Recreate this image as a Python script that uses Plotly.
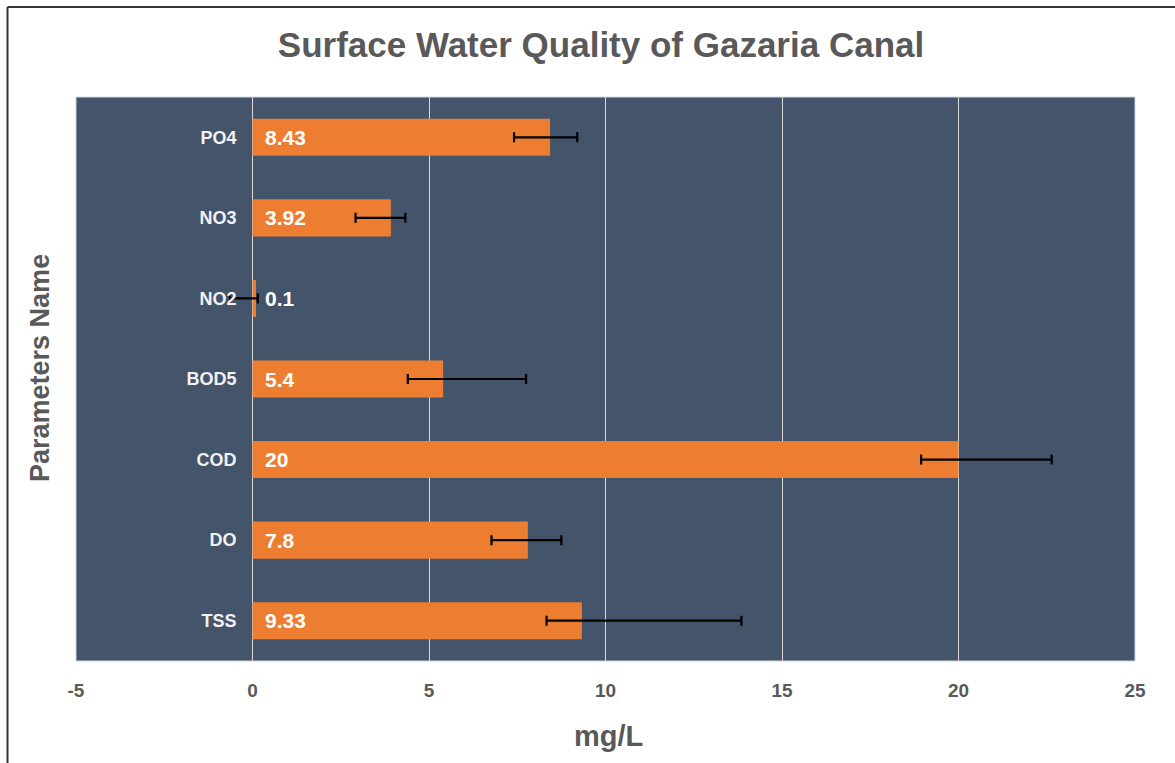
import plotly.graph_objects as go

categories = ["TSS", "DO", "COD", "BOD5", "NO2", "NO3", "PO4"]
values = [9.33, 7.8, 20, 5.4, 0.1, 3.92, 8.43]
labels = ["9.33", "7.8", "20", "5.4", "0.1", "3.92", "8.43"]
err_plus = [4.52, 0.95, 2.64, 2.35, 0.05, 0.41, 0.77]
err_minus = [1.0, 1.03, 1.06, 1.0, 0.74, 1.0, 1.02]
x_ticks = [-5, 0, 5, 10, 15, 20, 25]

XMIN, XMAX = -5, 25
FONT = "Liberation Sans, Arial, sans-serif"
GRAY = "#595959"

# target plot area in screen px: x 76..1135, y 97..661
PL, PR, PT, PB = 76, 1135, 97, 661
W, H = 1175, 763


def px(xs):
    return (xs - PL) / (PR - PL)


def py(ys):
    return (PB - ys) / (PB - PT)


fig = go.Figure()
fig.add_trace(go.Bar(
    y=categories, x=values, orientation="h",
    marker=dict(color="#ED7D31", line=dict(width=0)),
    width=0.46,
    error_x=dict(type="data", symmetric=False, array=err_plus, arrayminus=err_minus,
                 color="#000000", thickness=2.2, width=5),
    hoverinfo="x+y",
))

for cat, lab in zip(categories, labels):
    fig.add_annotation(x=0, y=cat, xref="x", yref="y", text="<b>%s</b>" % lab,
                       showarrow=False, xanchor="left", yanchor="middle", xshift=10,
                       font=dict(family=FONT, size=21, color="#FFFFFF"))

ypos = (0 - XMIN) / (XMAX - XMIN)

fig.update_layout(
    width=W, height=H,
    margin=dict(l=PL, r=W - PR, t=PT, b=H - PB),
    paper_bgcolor="#FFFFFF", plot_bgcolor="#44546A",
    showlegend=False,
    title=dict(text="<b>Surface Water Quality of Gazaria Canal</b>", x=601 / W, xanchor="center",
               y=1 - 45 / H, yanchor="middle", yref="container",
               font=dict(family=FONT, size=35, color=GRAY)),
    xaxis=dict(range=[XMIN, XMAX], tickvals=x_ticks, ticktext=["<b>%s</b>" % v for v in x_ticks],
               showgrid=True, gridcolor="#D9D9D9", gridwidth=1, zeroline=False,
               showline=False, ticks="", ticklabelstandoff=16,
               tickfont=dict(family=FONT, size=19, color=GRAY)),
    yaxis=dict(categoryorder="array", categoryarray=categories, anchor="free", position=ypos,
               tickvals=categories, ticktext=["<b>%s</b>" % c for c in categories],
               showgrid=False, zeroline=False, showline=False, ticks="", ticklabelstandoff=16,
               tickfont=dict(family=FONT, size=18, color="#F2F2F2")),
    shapes=[
        dict(type="rect", xref="paper", yref="paper", x0=0, x1=1, y0=0, y1=1,
             line=dict(color="#D0D4DA", width=1), layer="below"),
        dict(type="line", xref="paper", yref="paper", x0=px(7.5), x1=px(7.5),
             y0=py(775), y1=py(7), line=dict(color="#333333", width=2)),
        dict(type="line", xref="paper", yref="paper", x0=px(7.5), x1=px(1185),
             y0=py(7), y1=py(7), line=dict(color="#333333", width=2)),
    ],
)

fig.add_annotation(text="<b>Parameters Name</b>", xref="paper", yref="paper",
                   x=px(40), y=py(368), textangle=-90, showarrow=False,
                   xanchor="center", yanchor="middle", font=dict(family=FONT, size=27, color=GRAY))
fig.add_annotation(text="<b>mg/L</b>", xref="paper", yref="paper",
                   x=px(608), y=py(736), showarrow=False,
                   xanchor="center", yanchor="middle", font=dict(family=FONT, size=29, color=GRAY))

fig.write_html("out.html", config={"displayModeBar": False},
               post_script="document.body.style.margin='0';document.body.style.overflow='hidden';")
